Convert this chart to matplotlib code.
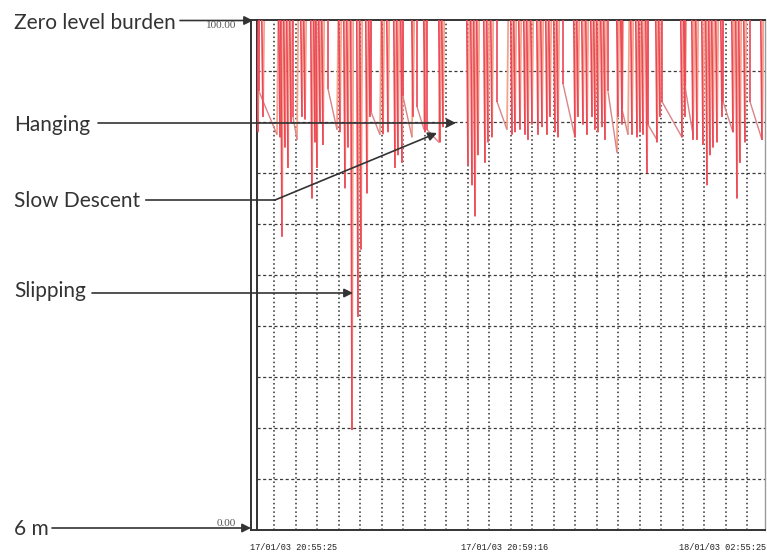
import numpy as np
import matplotlib
matplotlib.use("Agg")
import matplotlib.pyplot as plt
from matplotlib.collections import LineCollection
from matplotlib.lines import Line2D

# ---- burden level trace (percent of zero-level burden) ----
# sharp drops: time index and lowest level reached
spike_t = [1, 6, 23, 25, 28, 31, 34, 45, 48, 55, 58, 60, 63, 66, 83, 88, 91,
           95, 101, 104, 110, 113,
           126, 131, 138, 141, 145, 156, 168, 183, 186, 211, 215, 218, 221,
           228, 231, 235,
           255, 258, 263, 268, 271, 275, 281, 285, 290, 293, 298, 301, 318,
           321, 326, 330, 335, 338, 341, 345, 348, 361, 365, 375, 380,
           383, 386, 390, 400, 403, 425, 428, 436, 440, 446, 450, 453, 456,
           460, 465, 476, 480, 483, 488, 505]
spike_level = [78, 81, 77, 57.5, 75, 71, 80, 81, 80.5, 65, 76, 71, 80, 75.5,
               78, 67, 75, 19.6, 41.8, 55, 66, 81,
               77.6, 78, 71, 73.5, 72, 81, 78, 76, 79, 71.5, 67.6, 61.5, 73.5,
               72, 76, 77,
               77.5, 78, 78.5, 77.5, 76.5, 79.5, 77.5, 79, 77.5, 81, 78, 77,
               77, 81, 79.5, 77.5, 81, 78.5, 78, 79, 76.5, 81, 79.5, 77.5, 77,
               78, 77.5, 70, 76, 81, 77, 81, 76.5, 76.5, 75.5, 67.6, 73.5, 75,
               76, 81, 78, 65, 72, 76, 76.5]

# slow descents: start/end time and level at start/end of the slope
descent_t0 = [2, 36, 71, 114, 146, 160, 170, 240, 306, 351, 365, 391, 405,
              428, 466, 493]
descent_t1 = [20, 40, 80, 123, 155, 167, 182, 250, 318, 360, 371, 400, 425,
              436, 476, 505]
descent_v0 = [86, 81, 86.5, 82, 85, 83, 78.5, 84, 87.5, 86, 82.5, 79.5, 84,
              87, 84, 84]
descent_v1 = [77.5, 76.5, 78.5, 77.5, 77, 78.5, 76, 78.5, 77, 74, 77.5, 76.5,
              77, 77.5, 78, 76.5]

level_ticks = ["100.00", "0.00"]
time_labels = ["17/01/03 20:55:25", "17/01/03 20:59:16", "18/01/03 02:55:25"]

W, H, DPI = 767, 556, 100
fig = plt.figure(figsize=(W / DPI, H / DPI), dpi=DPI)
fig.patch.set_facecolor("white")
ax = fig.add_axes([257 / W, 26 / H, 508 / W, 510 / H])
ax.set_xlim(0, 508)
ax.set_ylim(0, 100)
ax.set_xticks([])
ax.set_yticks([])

# chart grid: dashed levels, dotted time divisions
for lv in range(10, 100, 10):
    ax.axhline(lv, color="#3a3a3a", lw=0.9, ls=(0, (2.5, 2)), zorder=1)
for gt in 17 + 21.5 * np.arange(23):
    ax.axvline(gt, color="#2e2e2e", lw=1.1, ls=(0, (1, 1.8)), zorder=1)

# trace segments
half = 1.2
down, up, slope = [], [], []
for t, v in zip(spike_t, spike_level):
    down.append([(t - half, 100), (t, v)])
    up.append([(t, v), (t + half, 100)])
for t0, t1, v0, v1 in zip(descent_t0, descent_t1, descent_v0, descent_v1):
    down.append([(t0, 100), (t0, v0)])
    slope.append([(t0, v0), (t1, v1)])
    up.append([(t1, v1), (t1 + half, 100)])
ax.add_collection(LineCollection(up, colors="#f5a48c", linewidths=1.3, zorder=2))
ax.add_collection(LineCollection(slope, colors="#d98489", linewidths=1.0, zorder=2))
ax.add_collection(LineCollection(down, colors="#ec4657", linewidths=1.2, zorder=3))

for side in ("left", "top", "bottom"):
    ax.spines[side].set_color("#333333")
    ax.spines[side].set_linewidth(1.4)
ax.spines["right"].set_color("#9a9a9a")
ax.spines["right"].set_linewidth(1.0)

# outer frame line of the recorder chart
fig.add_artist(Line2D([251 / W, 251 / W], [26 / H, 536 / H], color="#333333", lw=1.4))
fig.add_artist(Line2D([251 / W, 257 / W], [536 / H, 536 / H], color="#333333", lw=1.4))
fig.add_artist(Line2D([251 / W, 257 / W], [26 / H, 26 / H], color="#333333", lw=1.4))

# level scale labels
fig.text(236 / W, 1 - 26 / H, level_ticks[0], ha="right", va="center",
         family="Liberation Serif", size=8, color="#555555")
fig.text(236 / W, 1 - 523 / H, level_ticks[1], ha="right", va="center",
         family="Liberation Serif", size=8, color="#555555")

# time labels under the chart
for xp, ha, lab in zip([250, 461, 766], ["left", "left", "right"], time_labels):
    fig.text(xp / W, 1 - 548 / H, lab, ha=ha, va="center",
             family="Liberation Mono", size=6.2, color="#222222")

# callouts
txt_kw = dict(family="Lato", size=15, color="#333333", ha="left", va="baseline")
arrow_kw = dict(arrowstyle="-|>", color="#333333", lw=1.2, mutation_scale=13,
                shrinkA=0, shrinkB=0)


def callout(label, baseline_y, start_x, arrow_y, tip):
    fig.text(14 / W, 1 - baseline_y / H, label, **txt_kw)
    ax.annotate("", xy=(tip[0], H - tip[1]), xytext=(start_x, H - arrow_y),
                xycoords="figure pixels", textcoords="figure pixels",
                arrowprops=arrow_kw, annotation_clip=False)


callout("Zero level burden", 29, 180, 20.5, (253, 20.5))
callout("Hanging", 131, 98, 123, (456, 123))
callout("Slipping", 297, 92, 293, (353, 293))
callout("6 m", 535, 52, 528, (251, 528))

fig.text(14 / W, 1 - 207 / H, "Slow Descent", **txt_kw)
fig.add_artist(Line2D([146 / W, 275 / W], [1 - 200 / H, 1 - 200 / H],
                      color="#333333", lw=1.2))
ax.annotate("", xy=(437, H - 133), xytext=(275, H - 200),
            xycoords="figure pixels", textcoords="figure pixels",
            arrowprops=arrow_kw, annotation_clip=False)

fig.savefig("out.png", dpi=DPI, facecolor="white")
